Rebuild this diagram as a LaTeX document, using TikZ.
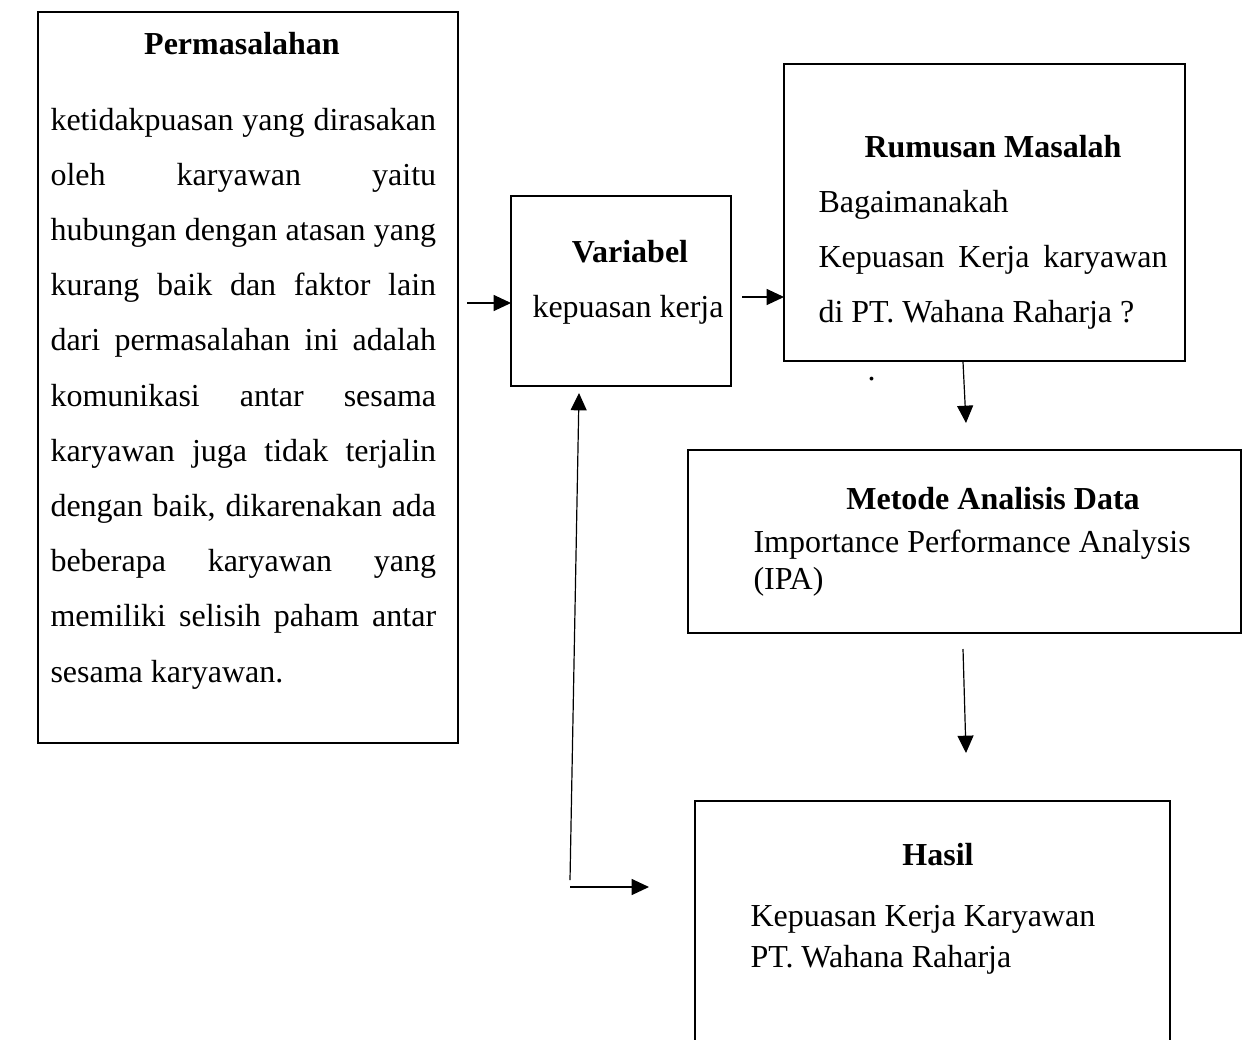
\documentclass[tikz,border=0pt]{standalone}
\usepackage{fontspec}
\setmainfont{Liberation Serif}
\usetikzlibrary{arrows.meta}
\tikzset{
  box/.style={draw, line width=0.85pt, inner sep=0pt},
  txt/.style={inner sep=0pt, anchor=base west, font=\fontsize{12pt}{14pt}\selectfont},
  ttl/.style={inner sep=0pt, anchor=base, font=\fontsize{12pt}{14pt}\selectfont\bfseries},
  conn/.style={line width=0.45pt, -{Triangle[length=6.5pt,width=6pt]}},
  plain/.style={line width=0.45pt}
}
\newcommand{\jline}[2]{\makebox[#1][s]{#2}}
\begin{document}
\begin{tikzpicture}[x=0.375pt, y=-0.375pt]
\useasboundingbox (0,0) rectangle (1248,1039);
\clip (0,0) rectangle (1248,1039);

% ---- boxes ----
\node[box, minimum width=157.5pt, minimum height=274.1pt] (perm) at (248,377.5) {};
\node[box, minimum width=82.5pt, minimum height=71.25pt] (var) at (621,291) {};
\node[box, minimum width=150.4pt, minimum height=111.4pt] (rum) at (984.5,212.5) {};
\node[box, minimum width=207.4pt, minimum height=68.6pt] (met) at (964.5,541.5) {};
\coordinate (hasBL) at (695,1050);
\coordinate (hasTL) at (695,801);
\coordinate (hasTR) at (1170,801);
\coordinate (hasBR) at (1170,1050);
\draw[line width=0.85pt] (hasBL) -- (hasTL) -- (hasTR) -- (hasBR);

% ---- Permasalahan ----
\node[ttl] (permT) at (242,54) {Permasalahan};
\node[txt] (p1) at (50,130) {\jline{144.6pt}{ketidakpuasan yang dirasakan}};
\node[txt] (p2) at (50,185.2) {\jline{144.6pt}{oleh karyawan yaitu}};
\node[txt] (p3) at (50,240.4) {\jline{144.6pt}{hubungan dengan atasan yang}};
\node[txt] (p4) at (50,295.6) {\jline{144.6pt}{kurang baik dan faktor lain}};
\node[txt] (p5) at (50,350.8) {\jline{144.6pt}{dari permasalahan ini adalah}};
\node[txt] (p6) at (50,406) {\jline{144.6pt}{komunikasi antar sesama}};
\node[txt] (p7) at (50,461.2) {\jline{144.6pt}{karyawan juga tidak terjalin}};
\node[txt] (p8) at (50,516.4) {\jline{144.6pt}{dengan baik, dikarenakan ada}};
\node[txt] (p9) at (50,571.6) {\jline{144.6pt}{beberapa karyawan yang}};
\node[txt] (p10) at (50,626.8) {\jline{144.6pt}{memiliki selisih paham antar}};
\node[txt] (p11) at (50,682) {sesama karyawan.};

% ---- Variabel ----
\node[ttl] (varT) at (630,262) {Variabel};
\node[txt] (v1) at (532,317) {kepuasan kerja};

% ---- Rumusan Masalah ----
\node[ttl] (rumT) at (993,157) {Rumusan Masalah};
\node[txt] (r1) at (818,212) {Bagaimanakah};
\node[txt] (r2) at (818,267) {\jline{130.9pt}{Kepuasan Kerja karyawan}};
\node[txt] (r3) at (818,322) {di PT. Wahana Raharja ?};
\node[txt] (dot) at (867,380) {.};

% ---- Metode ----
\node[ttl] (metT) at (993,509) {Metode Analisis Data};
\node[txt] (m1) at (753,552) {Importance Performance Analysis};
\node[txt] (m2) at (753,589) {(IPA)};

% ---- Hasil ----
\node[ttl] (hasT) at (938,865) {Hasil};
\node[txt] (h1) at (750,926) {Kepuasan Kerja Karyawan};
\node[txt] (h2) at (750,967) {PT. Wahana Raharja};

% ---- connectors ----
\coordinate (a1s) at (467,303); \coordinate (a1e) at (511,303);
\coordinate (a2s) at (742,297); \coordinate (a2e) at (784,297);
\coordinate (a3s) at (963,362); \coordinate (a3e) at (966,423);
\coordinate (a4s) at (963,649); \coordinate (a4e) at (966,753);
\coordinate (a5s) at (570,880); \coordinate (a5e) at (579,393);
\coordinate (a6s) at (570,887); \coordinate (a6e) at (649,887);
\draw[conn] (a1s) -- (a1e);
\draw[conn] (a2s) -- (a2e);
\draw[conn] (a3s) -- (a3e);
\draw[conn] (a4s) -- (a4e);
\draw[conn] (a5s) -- (a5e);
\draw[conn] (a6s) -- (a6e);
\end{tikzpicture}
\end{document}
